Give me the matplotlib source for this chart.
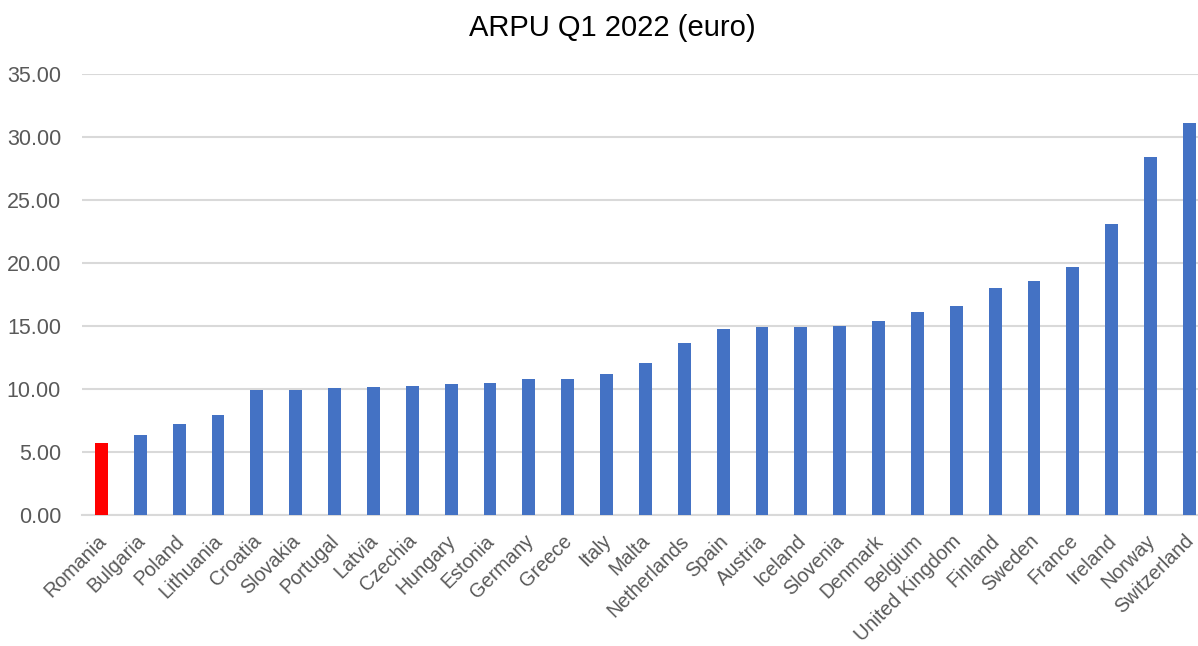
import matplotlib as mpl

mpl.use('Agg')
import matplotlib.pyplot as plt
from matplotlib.transforms import ScaledTranslation

countries = ["Romania", "Bulgaria", "Poland", "Lithuania", "Croatia", "Slovakia", "Portugal",
             "Latvia", "Czechia", "Hungary", "Estonia", "Germany", "Greece", "Italy", "Malta",
             "Netherlands", "Spain", "Austria", "Iceland", "Slovenia", "Denmark", "Belgium",
             "United Kingdom", "Finland", "Sweden", "France", "Ireland", "Norway", "Switzerland"]
arpu = [5.75, 6.37, 7.2, 7.92, 9.9, 9.92, 10.1, 10.18, 10.26, 10.4, 10.5, 10.78, 10.82,
        11.2, 12.05, 13.68, 14.75, 14.88, 14.95, 14.98, 15.38, 16.14, 16.6, 18.05, 18.55,
        19.7, 23.12, 28.42, 31.08]
highlight = "Romania"
yticks = [0, 5, 10, 15, 20, 25, 30, 35]

plt.rcParams['font.family'] = ['Liberation Sans', 'DejaVu Sans']

fig = plt.figure(figsize=(11.98, 6.46), dpi=100)
ax = fig.add_axes([0.0684, 0.2028, 0.9407, 0.6827])

colors = ["#FF0000" if c == highlight else "#4472C4" for c in countries]
x = range(len(countries))
ax.bar(x, arpu, width=0.33, color=colors, zorder=3)

ax.set_xlim(-0.5, len(countries) - 0.5)
ax.set_ylim(0, 35)
ax.set_yticks(yticks)
ax.set_yticklabels([f"{v:.2f}" for v in yticks], fontsize=15.5, color="#595959")
ax.set_xticks(list(x))
ax.set_xticklabels(countries, rotation=45, ha="right", rotation_mode="anchor",
                   fontsize=14.2, color="#595959")
ax.tick_params(axis="both", length=0)
ax.tick_params(axis="y", pad=15)
ax.tick_params(axis="x", pad=6)

# shift rotated labels left/down like the original
offset = ScaledTranslation(-0.05, -0.08, fig.dpi_scale_trans)
for lbl in ax.get_xticklabels():
    lbl.set_transform(lbl.get_transform() + offset)

ax.grid(axis="y", color="#d9d9d9", lw=1.5, zorder=0)
for s in ["top", "right", "left"]:
    ax.spines[s].set_visible(False)
ax.spines["bottom"].set_color("#d9d9d9")
ax.spines["bottom"].set_linewidth(1.5)

fig.text(0.511, 0.957, "ARPU Q1 2022 (euro)", ha="center", va="center", fontsize=21, color="black")

fig.savefig("out.png", dpi=100)
